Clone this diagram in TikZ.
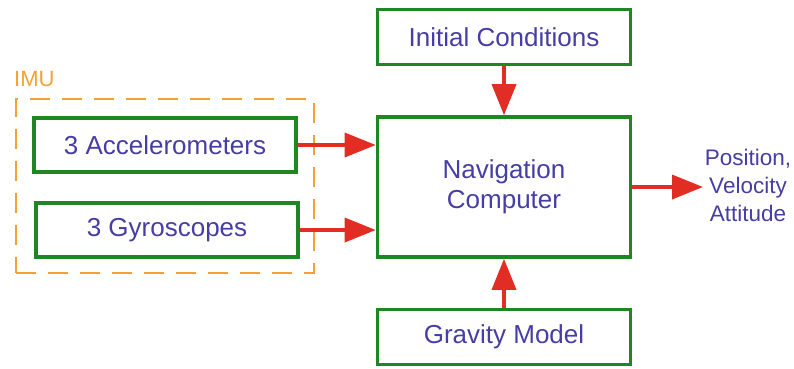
\documentclass[tikz,border=0pt]{standalone}
\usepackage{fontspec}
\setmainfont{Liberation Sans}
\usetikzlibrary{arrows.meta}
\definecolor{boxgreen}{RGB}{30,135,35}
\definecolor{arrred}{RGB}{225,45,35}
\definecolor{txtblue}{RGB}{70,62,165}
\definecolor{imuorange}{RGB}{245,160,50}
\tikzset{
  block/.style={draw=boxgreen, line width=3.6pt, fill=white, text=txtblue,
    font=\fontsize{26}{30}\selectfont, inner sep=0pt},
  flow/.style={draw=arrred, line width=3.6pt,
    -{Triangle[length=31pt,width=24pt]}},
}
\begin{document}
\begin{tikzpicture}[x=1pt,y=-1pt]
\useasboundingbox (0,0) rectangle (794,368);
% IMU group frame
\node[draw=imuorange, line width=2.6pt, dash pattern=on 20pt off 12pt,
      minimum width=298pt, minimum height=174pt, inner sep=0pt] (imu) at (165,186) {};
\node[text=imuorange, font=\fontsize{22}{24}\selectfont, anchor=west, inner sep=0pt] (imulbl) at (14,79) {IMU};
% blocks
\node[block, minimum width=262pt, minimum height=54pt] (acc) at (165,145) {3 Accelerometers};
\node[block, minimum width=262pt, minimum height=54pt] (gyr) at (167,230) {3 Gyroscopes};
\node[block, minimum width=253pt, minimum height=55pt] (ic) at (504,37) {Initial Conditions};
\node[block, minimum width=253pt, minimum height=140pt, align=center] (nav) at (504,187) {Navigation\\Computer};
\node[block, minimum width=253pt, minimum height=55pt] (grav) at (504,337) {Gravity Model};
\node[text=txtblue, font=\fontsize{22.5}{28}\selectfont, align=center, inner sep=0pt] (out) at (748,185) {Position,\\Velocity\\Attitude};
% signal arrows
\draw[flow] (acc.east) -- (acc.east -| nav.west);
\draw[flow] (gyr.east) -- (gyr.east -| nav.west);
\draw[flow] (ic.south) -- (nav.north);
\draw[flow] (grav.north) -- (nav.south);
\coordinate (outtip) at (703,187);
\draw[flow] (nav.east |- outtip) -- (outtip);
\end{tikzpicture}
\end{document}
